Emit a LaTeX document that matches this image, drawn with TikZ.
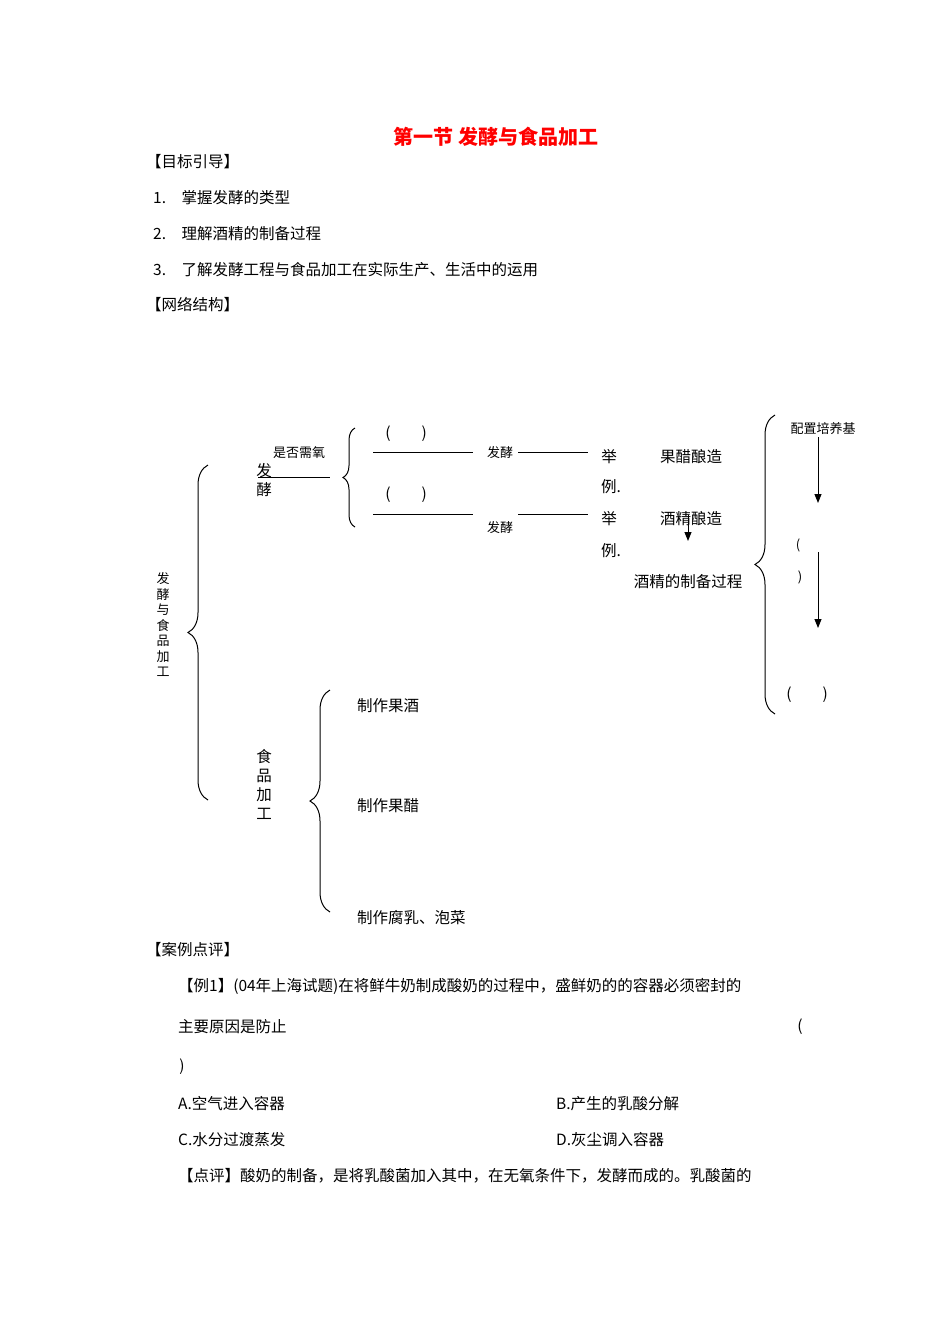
\documentclass[tikz,border=0pt]{standalone}
\usepackage{fontspec}
\setmainfont{Noto Sans CJK SC}
\usetikzlibrary{decorations.pathreplacing,arrows.meta}
\begin{document}
\begin{tikzpicture}[x=1pt,y=-1pt,
  t/.style={inner sep=0pt,font=\fontsize{15.5}{19}\selectfont},
  s/.style={inner sep=0pt,font=\fontsize{13}{15.5}\selectfont},
  brc/.style={decorate,line width=1pt,decoration={brace,amplitude=#1}},
  ln/.style={line width=1pt},
  ar/.style={line width=1pt,-{Triangle[length=9pt,width=7pt]}}]
\useasboundingbox[fill=white] (0,0) rectangle (950,1344);
\node[inner sep=0pt,text=red,font=\fontsize{20}{24}\selectfont\bfseries] (title) at (496,137) {第一节\ 发酵与食品加工};
\node[t,anchor=west] (h1) at (146,162) {【目标引导】};
\node[t,anchor=west] (o1) at (153,198) {1.\quad 掌握发酵的类型};
\node[t,anchor=west] (o2) at (153,234) {2.\quad 理解酒精的制备过程};
\node[t,anchor=west] (o3) at (153,270) {3.\quad 了解发酵工程与食品加工在实际生产、生活中的运用};
\node[t,anchor=west] (h2) at (146,305) {【网络结构】};
% braces
\draw[brc=20pt] (208,800) -- (208,465);
\draw[brc=12pt] (355,527) -- (355,428);
\draw[brc=20pt] (330,912) -- (330,690);
\draw[brc=20pt] (775,714) -- (775,415);
% left
\node[s,align=center] (main) at (163,625) {发\\酵\\与\\食\\品\\加\\工};
\node[t,align=center] (fj) at (264,480) {发\\酵};
\node[s] (need) at (299,453) {是否需氧};
\coordinate (fl1) at (258,477); \coordinate (fl2) at (330,477);
\draw[ln] (fl1) -- (fl2);
\node[t] (p1) at (406,434) {(\qquad)};
\node[t] (p2) at (406,495) {(\qquad)};
\coordinate (a1) at (373,452); \coordinate (a2) at (473,452);
\coordinate (a3) at (518,452); \coordinate (a4) at (588,452);
\coordinate (b1) at (373,514); \coordinate (b2) at (473,514);
\coordinate (b3) at (518,514); \coordinate (b4) at (588,514);
\draw[ln] (a1)--(a2); \draw[ln] (a3)--(a4); \draw[ln] (b1)--(b2); \draw[ln] (b3)--(b4);
\node[s] (fx1) at (500,453) {发酵};
\node[s] (fx2) at (500,528) {发酵};
\node[t] (j1) at (609,457) {举};
\node[t] (l1) at (611,487) {例.};
\node[t] (j2) at (609,519) {举};
\node[t] (l2) at (611,551) {例.};
\node[t] (gc) at (691,457) {果醋酿造};
\node[t] (jj) at (691,519) {酒精酿造};
\coordinate (sa) at (688,515); \coordinate (sb) at (688,541);
\draw[ar] (sa) -- (sb);
\node[t] (zb) at (688,582) {酒精的制备过程};
\node[s] (pz) at (823,429) {配置培养基};
\coordinate (r1) at (818,437); \coordinate (r2) at (818,503);
\coordinate (r3) at (818,552); \coordinate (r4) at (818,628);
\draw[ar] (r1)--(r2); \draw[ar] (r3)--(r4);
\node[s] (q1) at (798,545) {(};
\node[s] (q2) at (800,577) {)};
\node[t] (q3) at (807,695) {(\qquad)};
\node[t,align=center] (sp) at (264,784) {食\\品\\加\\工};
\node[t,anchor=west] (m1) at (357,706) {制作果酒};
\node[t,anchor=west] (m2) at (357,806) {制作果醋};
\node[t,anchor=west] (m3) at (357,918) {制作腐乳、泡菜};
% bottom text
\node[t,anchor=west] (h3) at (146,950) {【案例点评】};
\node[t,anchor=west] (e1) at (178,986) {【例1】(04年上海试题)在将鲜牛奶制成酸奶的过程中，盛鲜奶的的容器必须密封的};
\node[t,anchor=west] (e2) at (178,1027) {主要原因是防止};
\node[t] (e3) at (800,1027) {(};
\node[t] (e4) at (182,1067) {)};
\node[t,anchor=west] (cA) at (178,1104) {A.空气进入容器};
\node[t,anchor=west] (cB) at (556,1104) {B.产生的乳酸分解};
\node[t,anchor=west] (cC) at (178,1140) {C.水分过渡蒸发};
\node[t,anchor=west] (cD) at (556,1140) {D.灰尘调入容器};
\node[t,anchor=west] (pp) at (178,1176) {【点评】酸奶的制备，是将乳酸菌加入其中，在无氧条件下，发酵而成的。乳酸菌的};
\end{tikzpicture}
\end{document}
